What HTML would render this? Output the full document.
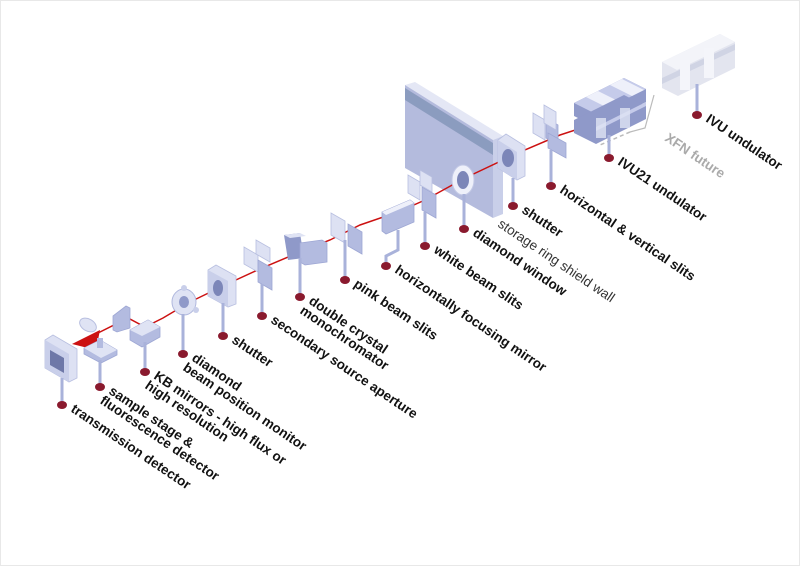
<!DOCTYPE html>
<html><head><meta charset="utf-8"><style>
html,body{margin:0;padding:0;background:#fff}
svg{display:block}
text{font-family:"Liberation Sans",sans-serif;font-weight:bold;font-size:13.5px;fill:#111}
.lt{font-weight:normal;fill:#333}
.gr{fill:#aaa}
.st{stroke:#a9b2da;stroke-width:3}
.dot{fill:#8a1a2e}
.f1{fill:#dde1f3;stroke:#b8bfe0;stroke-width:0.8}
.f2{fill:#b3bbe0;stroke:#9ea7d4;stroke-width:0.8}
</style></head><body>
<svg width="800" height="566" viewBox="0 0 800 566" xmlns="http://www.w3.org/2000/svg">
<rect x="0.5" y="0.5" width="799" height="565" fill="#fff" stroke="#e8e8e8"/>

<!-- future IVU -->
<g>
<polygon points="662,62 720,34 735,42 735,68 678,96 662,88" fill="#e3e5ef"/>
<polygon points="662,62 720,34 735,42 677,70" fill="#f3f4f9"/>
<polygon points="662,78 735,44 735,50 662,84" fill="#d0d4e4"/>
<rect x="680" y="60" width="10" height="30" fill="#f4f5fa"/>
<rect x="704" y="48" width="10" height="30" fill="#f4f5fa"/>
<line x1="697" y1="84" x2="697" y2="112" class="st"/>
</g>
<polyline points="654,95 645,128 630,132" fill="none" stroke="#bbb" stroke-width="1.2"/>
<line x1="630" y1="132" x2="600" y2="145" stroke="#bbb" stroke-width="1.5" stroke-dasharray="4,3"/>

<!-- shield wall -->
<polygon points="405,85 415,82 503,136 493,140" fill="#e4e7f5"/>
<polygon points="493,140 503,136 503,214 493,218" fill="#c9cfe9"/>
<polygon points="405,85 493,140 493,218 405,168" fill="#b4bbdd"/>
<polygon points="405,88 493,143 493,155 405,100" fill="#8b9cbf"/>

<!-- beam -->
<polyline points="612,118 560,135 520,152 465,178 425,200 398,212 360,225 330,240 300,252 262,268 225,285 190,302 163,318 145,327 128,318 92,336" fill="none" stroke="#cc1111" stroke-width="1.5"/>
<polygon points="72,344 100,330 96,350" fill="#cc1111"/>

<!-- IVU21 undulator -->
<g>
<polygon points="574,103 624,78 646,89 646,102 596,127 574,116" fill="#8f99c9"/>
<polygon points="574,103 624,78 646,89 596,114" fill="#c5cbea"/>
<polygon points="586,97 598,91 620,102 608,108" fill="#eef0fa"/>
<polygon points="610,85 622,79 644,90 632,96" fill="#eef0fa"/>
<polygon points="574,120 624,95 646,106 646,119 596,144 574,133" fill="#8f99c9"/>
<polygon points="596,127 646,102 646,106 596,131" fill="#c5cbea"/>
<rect x="596" y="118" width="10" height="20" fill="#dfe3f4" opacity="0.8"/>
<rect x="620" y="108" width="10" height="20" fill="#dfe3f4" opacity="0.8"/>
</g>

<!-- h&v slits -->
<polygon points="533,113 545,120 545,140 533,133" class="f1"/>
<polygon points="546,118 558,125 558,145 546,138" class="f2"/>
<polygon points="544,105 556,112 556,130 544,123" class="f1"/>
<polygon points="548,133 566,143 566,158 548,148" class="f2"/>
<!-- shutter 2 -->
<polygon points="498,140 506,134 525,146 525,176 517,180 498,168" class="f1"/>
<polygon points="498,140 517,152 517,180 498,168" fill="#c9cfea"/>
<ellipse cx="508" cy="158" rx="6" ry="9" fill="#7c86b8"/>
<!-- diamond window -->
<ellipse cx="463" cy="180" rx="11" ry="15" fill="#eef0fa" stroke="#c3c9e6"/>
<ellipse cx="463" cy="180" rx="6" ry="9" fill="#7c86b8"/>
<!-- white beam slits -->
<polygon points="408,175 420,182 420,200 408,193" class="f1"/>
<polygon points="422,187 436,195 436,218 422,210" class="f2"/>
<polygon points="420,170 432,177 432,192 420,185" class="f1"/>
<!-- horizontally focusing mirror -->
<polygon points="382,212 410,200 414,203 414,222 386,234 382,231" class="f2"/>
<polygon points="382,212 410,200 414,203 386,215" fill="#eef0fa"/>
<!-- pink beam slits -->
<polygon points="331,213 345,221 345,243 331,235" class="f1"/>
<polygon points="348,224 362,232 362,254 348,246" class="f2"/>
<!-- DCM -->
<polygon points="284,235 300,233 304,258 288,260" fill="#8f99c9"/>
<polygon points="284,235 300,233 306,236 290,238" fill="#dfe3f4"/>
<polygon points="300,243 322,240 327,243 327,262 305,265 300,262" class="f2"/>
<!-- secondary source aperture -->
<polygon points="244,247 258,255 258,272 244,264" class="f1"/>
<polygon points="258,260 272,268 272,290 258,282" class="f2"/>
<polygon points="256,240 270,248 270,262 256,254" class="f1"/>
<!-- shutter 1 -->
<polygon points="208,270 216,265 236,276 236,304 228,307 208,296" class="f1"/>
<polygon points="208,270 228,281 228,307 208,296" fill="#c9cfea"/>
<ellipse cx="218" cy="288" rx="5" ry="8" fill="#7c86b8"/>
<!-- diamond BPM -->
<ellipse cx="184" cy="302" rx="12" ry="13" fill="#dfe3f4" stroke="#b0b8de"/>
<ellipse cx="184" cy="302" rx="5" ry="6" fill="#8f99c9"/>
<circle cx="184" cy="288" r="3" fill="#c9cfea"/><circle cx="196" cy="310" r="3" fill="#c9cfea"/>
<!-- KB mirrors -->
<polygon points="113,316 126,306 130,308 130,328 117,332 113,330" class="f2"/>
<polygon points="130,330 148,320 160,327 160,337 142,347 130,340" class="f2"/>
<polygon points="130,330 148,320 160,327 142,336" fill="#dfe3f4"/>
<!-- sample stage -->
<ellipse cx="88" cy="325" rx="6" ry="9" transform="rotate(-60 88 325)" fill="#dfe3f4" stroke="#b8bfe0"/>
<polygon points="84,348 100,340 117,350 117,355 101,363 84,354" class="f2"/>
<polygon points="84,348 100,340 117,350 101,358" fill="#dfe3f4"/>
<rect x="97" y="338" width="6" height="10" fill="#b3bbe0"/>
<!-- transmission detector -->
<polygon points="45,340 53,335 77,349 77,378 69,382 45,368" class="f1"/>
<polygon points="45,340 69,354 69,382 45,368" fill="#c9cfea"/>
<polygon points="50,350 64,358 64,373 50,365" fill="#6e78a8"/>

<!-- stems -->
<line x1="609" y1="135" x2="609" y2="158" class="st"/>
<line x1="551" y1="150" x2="551" y2="186" class="st"/>
<line x1="513" y1="178" x2="513" y2="206" class="st"/>
<line x1="464" y1="194" x2="464" y2="229" class="st"/>
<line x1="425" y1="212" x2="425" y2="246" class="st"/>
<polyline points="398,230 398,250 386,256 386,266" fill="none" class="st"/>
<line x1="345" y1="240" x2="345" y2="280" class="st"/>
<line x1="300" y1="258" x2="300" y2="297" class="st"/>
<line x1="262" y1="284" x2="262" y2="316" class="st"/>
<line x1="223" y1="303" x2="223" y2="336" class="st"/>
<line x1="183" y1="314" x2="183" y2="354" class="st"/>
<line x1="145" y1="342" x2="145" y2="372" class="st"/>
<line x1="100" y1="360" x2="100" y2="387" class="st"/>
<line x1="62" y1="378" x2="62" y2="405" class="st"/>

<!-- dots -->
<g class="dot">
<ellipse cx="697" cy="115" rx="5" ry="4"/><ellipse cx="609" cy="158" rx="5" ry="4"/>
<ellipse cx="551" cy="186" rx="5" ry="4"/><ellipse cx="513" cy="206" rx="5" ry="4"/>
<ellipse cx="464" cy="229" rx="5" ry="4"/><ellipse cx="425" cy="246" rx="5" ry="4"/>
<ellipse cx="386" cy="266" rx="5" ry="4"/><ellipse cx="345" cy="280" rx="5" ry="4"/>
<ellipse cx="300" cy="297" rx="5" ry="4"/><ellipse cx="262" cy="316" rx="5" ry="4"/>
<ellipse cx="223" cy="336" rx="5" ry="4"/><ellipse cx="183" cy="354" rx="5" ry="4"/>
<ellipse cx="145" cy="372" rx="5" ry="4"/><ellipse cx="100" cy="387" rx="5" ry="4"/>
<ellipse cx="62" cy="405" rx="5" ry="4"/>
</g>

<!-- labels -->
<text transform="translate(705,121) rotate(34)">IVU undulator</text>
<text class="gr" transform="translate(664,140) rotate(34)">XFN future</text>
<text transform="translate(617,164) rotate(34)">IVU21 undulator</text>
<text transform="translate(559,192) rotate(34)">horizontal &amp; vertical slits</text>
<text transform="translate(521,212) rotate(34)">shutter</text>
<text class="lt" transform="translate(497,226) rotate(34)">storage ring shield wall</text>
<text transform="translate(472,235) rotate(34)">diamond window</text>
<text transform="translate(433,252) rotate(34)">white beam slits</text>
<text transform="translate(394,272) rotate(34)">horizontally focusing mirror</text>
<text transform="translate(353,286) rotate(34)">pink beam slits</text>
<text transform="translate(308,303) rotate(34)"><tspan x="0" y="0">double crystal</tspan><tspan x="-2" y="13">monochromator</tspan></text>
<text transform="translate(270,322) rotate(34)">secondary source aperture</text>
<text transform="translate(231,342) rotate(34)">shutter</text>
<text transform="translate(191,360) rotate(34)"><tspan x="0" y="0">diamond</tspan><tspan x="-2" y="13">beam position monitor</tspan></text>
<text transform="translate(153,378) rotate(34)"><tspan x="0" y="0">KB mirrors - high flux or</tspan><tspan x="-2" y="13">high resolution</tspan></text>
<text transform="translate(108,393) rotate(34)"><tspan x="0" y="0">sample stage &amp;</tspan><tspan x="-2" y="13">fluorescence detector</tspan></text>
<text transform="translate(70,411) rotate(34)">transmission detector</text>
</svg>
</body></html>
